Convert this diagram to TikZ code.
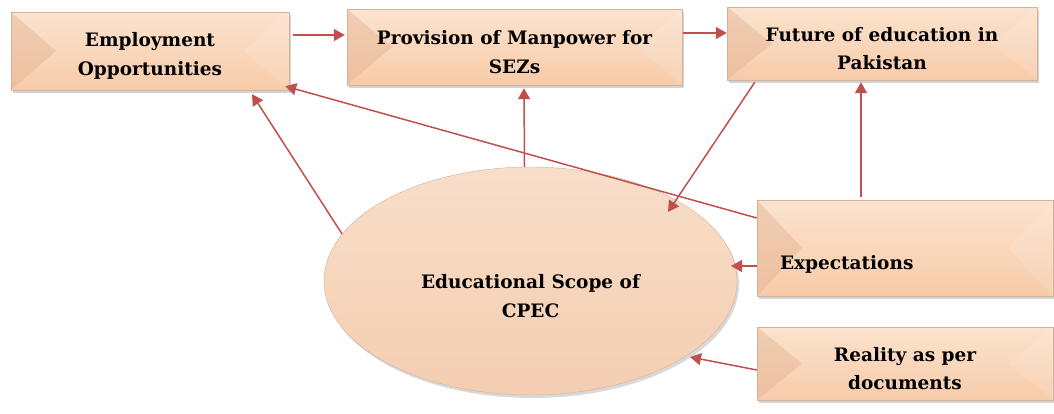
\documentclass[tikz,border=0pt]{standalone}
\usepackage{fontspec}
\setmainfont{DejaVu Serif}
\usetikzlibrary{shapes.geometric,shadows,arrows.meta}
\definecolor{peach}{HTML}{F7CBA9}
\definecolor{peachlight}{HTML}{FCE3CE}
\definecolor{peachdark}{HTML}{DFAE8C}
\definecolor{peachedge}{HTML}{D2B39B}
\definecolor{peachmid}{HTML}{F5CFB2}
\definecolor{linkred}{HTML}{C0504D}
\begin{document}
\begin{tikzpicture}[x=1pt,y=-1pt,
                label font/.style={font=\fontsize{18.5}{28.5}\selectfont\bfseries},
                bevel/.style={draw=peachedge,top color=peachlight,bottom color=peach,
                    drop shadow={shadow xshift=2pt,shadow yshift=-3pt,opacity=0.35},
                    label font,align=center,inner sep=0pt,text height=52.5pt,
                    path picture={
                        \fill[peachdark,opacity=0.4] (path picture bounding box.north west) -- ([xshift=45pt]path picture bounding box.west) -- (path picture bounding box.south west) -- cycle;
                        \fill[white,opacity=0.12] (path picture bounding box.north east) -- ([xshift=-45pt]path picture bounding box.east) -- (path picture bounding box.south east) -- cycle;
                    }},
                link/.style={draw=linkred,line width=1.5pt,-{Triangle[length=11pt,width=12pt]}}]
                \useasboundingbox (0,0) rectangle (1054,413);
                \node[bevel,minimum width=278pt,minimum height=78pt] (emp) at (150,51) {Employment\\Opportunities};
                \node[bevel,minimum width=335pt,minimum height=76pt] (prov) at (514.5,47) {Provision of Manpower for\\SEZs};
                \node[bevel,minimum width=310pt,minimum height=73pt] (fut) at (882,43.5) {Future of education in\\Pakistan};
                \node[bevel,minimum width=296pt,minimum height=96pt,text width=250pt,align=left,text height=46pt] (expe) at (905,248) {Expectations};
                \node[bevel,minimum width=296pt,minimum height=73pt] (real) at (905,363.5) {Reality as per\\documents};
                \node[ellipse,draw=peachedge,top color=peachmid!70!white,middle color=peachmid,bottom color=peachmid!96!peachdark,
                    drop shadow={shadow xshift=2pt,shadow yshift=-3pt,opacity=0.3},
                    minimum width=413pt,minimum height=228pt,inner sep=0pt,align=center,
                    label font,text height=73pt] (scope) at (530.5,281) {Educational Scope of\\CPEC};
                \draw[link] ([shift={(4,-16)}]emp.east) -- ([shift={(-2,-12)}]prov.west);
                \draw[link] ([shift={(1,-14)}]prov.east) -- ([shift={(0,-10.5)}]fut.west);
                \draw[link] (scope.166) -- ([shift={(102,4)}]emp.south);
                \draw[link] ([shift={(0,-30)}]expe.west) -- ([shift={(-4,-4)}]emp.south east);
                \draw[link] ([xshift=-6pt]scope.north) -- ([shift={(9.5,3)}]prov.south);
                \draw[link] ([shift={(28,2)}]fut.south west) -- ([shift={(137.5,-69)}]scope.center);
                \draw[link] ([shift={(-44,-3)}]expe.north) -- ([shift={(-21,2)}]fut.south);
                \draw[link] ([shift={(0,18)}]expe.west) -- ([shift={(200.5,-15)}]scope.center);
                \draw[link] ([shift={(0,6.5)}]real.west) -- ([shift={(159.5,76)}]scope.center);
            \end{tikzpicture}
\end{document}
